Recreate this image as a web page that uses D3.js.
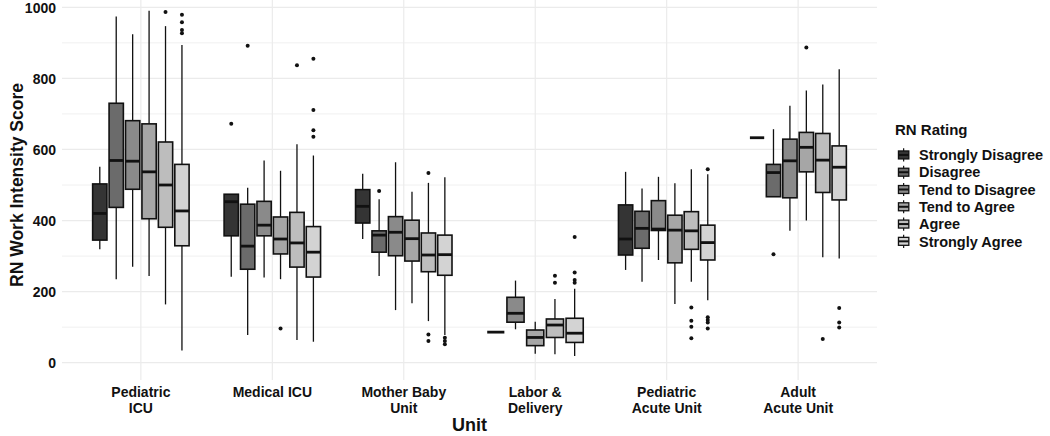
<!DOCTYPE html>
<html>
<head>
<meta charset="utf-8">
<script src="https://cdn.jsdelivr.net/npm/d3@7"></script>
<style>
  html, body { margin: 0; padding: 0; background: #ffffff; }
  svg { display: block; font-family: "Liberation Sans", Arial, sans-serif; }
</style>
</head>
<body>
<svg id="chart" width="1050" height="436"></svg>
<script>
// ---------- data ----------
const units = ["Pediatric\nICU", "Medical ICU", "Mother Baby\nUnit", "Labor &\nDelivery", "Pediatric\nAcute Unit", "Adult\nAcute Unit"];
const ratings = ["Strongly Disagree", "Disagree", "Tend to Disagree", "Tend to Agree", "Agree", "Strongly Agree"];
const yTicks = [0, 200, 400, 600, 800, 1000];

// per rating: one [lowerWhisker, q1, median, q3, upperWhisker] per unit (null = no responses)
const stronglyDisagree = [[319, 345, 420, 503, 551], [242, 357, 453, 474, 474], [348, 393, 440, 487, 532], [86, 86, 86, 86, 86], [261, 303, 348, 444, 537], [633, 633, 633, 633, 633]];
const disagree         = [[235, 437, 569, 730, 974], [78, 263, 328, 446, 492], [244, 311, 359, 371, 460], null, [228, 322, 378, 426, 490], [467, 467, 535, 558, 657]];
const tendToDisagree   = [[270, 488, 567, 681, 924], [240, 357, 387, 454, 569], [148, 301, 367, 411, 564], [94, 114, 139, 184, 231], [289, 372, 376, 456, 523], [371, 464, 568, 629, 723]];
const tendToAgree      = [[244, 405, 537, 672, 990], [235, 306, 348, 410, 540], [167, 286, 349, 401, 481], [25, 48, 71, 92, 115], [165, 281, 373, 415, 505], [400, 537, 606, 648, 766]];
const agree            = [[164, 381, 500, 621, 947], [64, 269, 337, 423, 615], [117, 256, 303, 365, 506], [24, 71, 106, 123, 179], [228, 319, 371, 425, 544], [297, 479, 570, 645, 783]];
const stronglyAgree    = [[34, 329, 427, 558, 894], [59, 241, 311, 383, 583], [78, 246, 304, 359, 522], [19, 57, 83, 125, 208], [176, 289, 338, 387, 530], [293, 458, 550, 610, 826]];

// per rating: outlier values per unit
const outSD  = [[], [672], [], [], [], []];
const outD   = [[], [892], [483], [], [], [305]];
const outTD  = [[], [], [], [], [], []];
const outTA  = [[], [96], [], [], [], [887]];
const outA   = [[987], [837], [534, 79, 61], [245, 225], [155, 118, 101, 69], [67]];
const outSA  = [[979, 958, 936, 927], [855, 711, 654, 636], [70, 61, 52], [354, 254, 233, 225], [544, 128, 120, 113, 96], [154, 113, 99]];

const statsByRating = [stronglyDisagree, disagree, tendToDisagree, tendToAgree, agree, stronglyAgree];
const outliersByRating = [outSD, outD, outTD, outTA, outA, outSA];

// ---------- styles ----------
const fills = ["#343434", "#6b6b6b", "#8a8a8a", "#a6a6a6", "#bdbdbd", "#d3d3d3"];
const ink = "#111111";

// ---------- layout ----------
const svg = d3.select("#chart");
const panel = { left: 62, right: 877, top: 0, bottom: 380 };

const x = d3.scaleBand().domain(units).range([panel.left, panel.right]).paddingInner(0).paddingOuter(0.1);
const y = d3.scaleLinear().domain([0, 1000]).range([362.7, 7.3]);

// grid
const g = svg.append("g");
const minor = d3.range(100, 1000, 200);
g.selectAll("line.minor").data(minor).join("line")
  .attr("x1", panel.left).attr("x2", panel.right)
  .attr("y1", d => y(d)).attr("y2", d => y(d))
  .attr("stroke", "#f0f0f0").attr("stroke-width", 1);
g.selectAll("line.major").data(yTicks).join("line")
  .attr("x1", panel.left).attr("x2", panel.right)
  .attr("y1", d => y(d)).attr("y2", d => y(d))
  .attr("stroke", "#ebebeb").attr("stroke-width", 1.2);
g.selectAll("line.vmajor").data(units).join("line")
  .attr("x1", d => x(d) + x.bandwidth() / 2).attr("x2", d => x(d) + x.bandwidth() / 2)
  .attr("y1", panel.top).attr("y2", panel.bottom)
  .attr("stroke", "#ebebeb").attr("stroke-width", 1.2);

// y axis labels
const yAxis = d3.axisLeft(y).tickValues(yTicks).tickFormat(d3.format("d")).tickSize(0).tickPadding(0);
const ya = svg.append("g").attr("transform", "translate(56,0)").call(yAxis);
ya.select(".domain").remove();
ya.selectAll("text").attr("font-size", 14).attr("font-weight", "bold").attr("fill", ink)
  .attr("font-family", "Liberation Sans, Arial, sans-serif").attr("dy", "0.36em");

// x axis labels (multi-line)
const xAxis = d3.axisBottom(x).tickSize(0).tickFormat("");
const xa = svg.append("g").attr("transform", `translate(0,${panel.bottom})`).call(xAxis);
xa.select(".domain").remove();
xa.selectAll(".tick").each(function(d) {
  const t = d3.select(this).append("text")
    .attr("text-anchor", "middle").attr("font-size", 14).attr("font-weight", "bold")
    .attr("fill", ink).attr("font-family", "Liberation Sans, Arial, sans-serif");
  d.split("\n").forEach((line, i) => {
    t.append("tspan").attr("x", 0).attr("y", 17 + i * 16).text(line);
  });
});

// axis titles
svg.append("text").attr("x", (panel.left + panel.right) / 2).attr("y", 431)
  .attr("text-anchor", "middle").attr("font-size", 18).attr("font-weight", "bold").attr("fill", ink)
  .text("Unit");
svg.append("text").attr("transform", `translate(23,${(362.7 + 7.3) / 2}) rotate(-90)`)
  .attr("text-anchor", "middle").attr("font-size", 17.5).attr("font-weight", "bold").attr("fill", ink)
  .text("RN Work Intensity Score");

// boxes
const boxes = svg.append("g");
units.forEach((u, ui) => {
  const present = ratings.filter((r, ri) => statsByRating[ri][ui] !== null);
  const c = x(u) + x.bandwidth() / 2;
  const half = 0.375 * x.step();
  const inner = d3.scaleBand().domain(present).range([c - half, c + half]).padding(0);
  present.forEach(r => {
    const ri = ratings.indexOf(r);
    const [lo, q1, med, q3, hi] = statsByRating[ri][ui];
    const bw = inner.bandwidth() * 0.87;
    const cx = inner(r) + inner.bandwidth() / 2;
    const gg = boxes.append("g");
    // whiskers
    gg.append("line").attr("x1", cx).attr("x2", cx).attr("y1", y(hi)).attr("y2", y(q3))
      .attr("stroke", ink).attr("stroke-width", 1.3);
    gg.append("line").attr("x1", cx).attr("x2", cx).attr("y1", y(q1)).attr("y2", y(lo))
      .attr("stroke", ink).attr("stroke-width", 1.3);
    // box
    gg.append("rect").attr("x", cx - bw / 2).attr("width", bw)
      .attr("y", y(q3)).attr("height", Math.max(0, y(q1) - y(q3)))
      .attr("fill", fills[ri]).attr("stroke", ink).attr("stroke-width", 1.6);
    // median
    gg.append("line").attr("x1", cx - bw / 2).attr("x2", cx + bw / 2)
      .attr("y1", y(med)).attr("y2", y(med))
      .attr("stroke", ink).attr("stroke-width", 2.8);
    // outliers
    gg.selectAll("circle").data(outliersByRating[ri][ui]).join("circle")
      .attr("cx", cx).attr("cy", d => y(d)).attr("r", 2).attr("fill", ink);
  });
});

// legend
const lg = svg.append("g").attr("transform", "translate(895,0)");
lg.append("text").attr("x", 0).attr("y", 135).attr("font-size", 15).attr("font-weight", "bold")
  .attr("fill", ink).text("RN Rating");
const keySize = 17.28;
ratings.forEach((r, i) => {
  const top = 146.3 + i * keySize;
  const k = lg.append("g").attr("transform", `translate(0,${top})`);
  const kx = keySize / 2;
  k.append("line").attr("x1", kx).attr("x2", kx).attr("y1", keySize * 0.12).attr("y2", keySize * 0.88)
    .attr("stroke", ink).attr("stroke-width", 1.2);
  k.append("rect").attr("x", keySize * 0.2).attr("width", keySize * 0.6)
    .attr("y", keySize * 0.27).attr("height", keySize * 0.46)
    .attr("fill", fills[i]).attr("stroke", ink).attr("stroke-width", 1.3);
  k.append("line").attr("x1", keySize * 0.2).attr("x2", keySize * 0.8).attr("y1", keySize / 2).attr("y2", keySize / 2)
    .attr("stroke", ink).attr("stroke-width", 2);
  k.append("text").attr("x", 24).attr("y", keySize / 2).attr("dy", "0.36em")
    .attr("font-size", 14.5).attr("font-weight", "bold").attr("fill", ink).text(r);
});
</script>
</body>
</html>
